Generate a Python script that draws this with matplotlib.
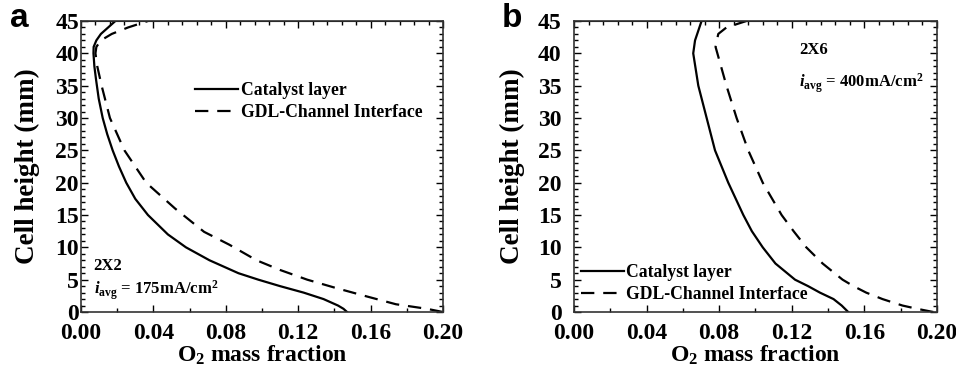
import matplotlib
matplotlib.use('Agg')
import matplotlib.pyplot as plt
from matplotlib.ticker import MultipleLocator, FormatStrFormatter
from matplotlib.lines import Line2D

plt.rcParams['font.family'] = 'Liberation Serif'
plt.rcParams['font.weight'] = 'bold'
plt.rcParams['mathtext.fontset'] = 'custom'
plt.rcParams['mathtext.rm'] = 'Liberation Serif:bold'
plt.rcParams['mathtext.it'] = 'Liberation Serif:italic:bold'
plt.rcParams['mathtext.bf'] = 'Liberation Serif:bold'

# panel a (2X2, 175 mA/cm2)
h_cl_a = [0, 0.5, 1, 1.5, 2, 3, 4, 5, 6, 8, 10, 12, 15, 17.5, 20, 22.5, 25, 27.5, 30, 33, 36, 38, 40, 41, 42, 43, 44, 45]
o2_cl_a = [0.147, 0.145, 0.142, 0.138, 0.134, 0.123, 0.110, 0.098, 0.087, 0.071, 0.058, 0.048, 0.037, 0.030,
           0.025, 0.021, 0.0175, 0.0145, 0.012, 0.0098, 0.0083, 0.0074, 0.0069, 0.0070, 0.0085, 0.011, 0.015, 0.019]
h_gdl_a = [0, 0.5, 1.2, 2.4, 3.7, 5, 6.5, 8, 10.4, 12.4, 16, 20, 25, 30, 35, 38, 40, 41, 42, 43, 44, 45]
o2_gdl_a = [0.200, 0.191, 0.174, 0.158, 0.141, 0.125, 0.110, 0.097, 0.082, 0.068, 0.052, 0.036, 0.024, 0.016,
            0.0114, 0.009, 0.0080, 0.0085, 0.011, 0.017, 0.026, 0.037]

# panel b (2X6, 400 mA/cm2)
h_cl_b = [0, 1, 2, 3, 4, 5, 7.5, 10, 12.5, 15, 20, 25, 30, 35, 40, 42, 45]
o2_cl_b = [0.1511, 0.1475, 0.143, 0.1355, 0.129, 0.1218, 0.111, 0.104, 0.098, 0.0933, 0.085, 0.0777, 0.0731,
           0.0685, 0.0657, 0.0667, 0.0703]
h_gdl_b = [0, 0.5, 1, 2, 3, 4, 5, 7.5, 10, 12.5, 15, 20, 25, 30, 35, 40, 41, 43, 44, 45]
o2_gdl_b = [0.198, 0.189, 0.181, 0.170, 0.161, 0.154, 0.148, 0.137, 0.128, 0.121, 0.1144, 0.104, 0.096, 0.0896,
            0.084, 0.079, 0.078, 0.0795, 0.084, 0.095]

labels = ['Catalyst layer', 'GDL-Channel Interface']
dash = (0, (6, 4))

fig = plt.figure(figsize=(9.56, 3.73), dpi=100)
ax_a = fig.add_axes([0.0847, 0.1635, 0.3787, 0.7802])
ax_b = fig.add_axes([0.6004, 0.1635, 0.3797, 0.7802])


def style(ax, ypad, ylab_x):
    ax.set_xlim(0, 0.2)
    ax.set_ylim(0, 45)
    ax.xaxis.set_major_locator(MultipleLocator(0.04))
    ax.xaxis.set_minor_locator(MultipleLocator(0.02))
    ax.yaxis.set_major_locator(MultipleLocator(5))
    ax.yaxis.set_minor_locator(MultipleLocator(1))
    ax.xaxis.set_major_formatter(FormatStrFormatter('%.2f'))
    ax.tick_params(which='major', direction='in', length=5, width=1, labelsize=17)
    ax.tick_params(which='minor', direction='in', length=3, width=1)
    ax.tick_params(axis='x', which='major', pad=8)
    ax.tick_params(axis='y', which='major', pad=ypad)
    ax.tick_params(axis='y', which='both', right=True)
    for s in ax.spines.values():
        s.set_linewidth(1.2)
        s.set_color('#333333')
    top = ax.secondary_xaxis('top')
    top.xaxis.set_major_locator(MultipleLocator(0.04))
    top.xaxis.set_minor_locator(MultipleLocator(0.008))
    top.tick_params(which='major', direction='in', length=5, width=1, labeltop=False)
    top.tick_params(which='minor', direction='in', length=3, width=1)
    ax.set_xlabel('O$_2$ mass fraction', fontsize=17, fontweight='bold')
    ax.set_ylabel('Cell height (mm)', fontsize=19.5, fontweight='bold')
    ax.xaxis.set_label_coords(0.5, -0.108)
    ax.yaxis.set_label_coords(ylab_x, 0.5)


style(ax_a, 1.5, -0.113)
style(ax_b, 9, -0.135)

ax_a.plot(o2_cl_a, h_cl_a, color='black', lw=1.6)
ax_a.plot(o2_gdl_a, h_gdl_a, color='black', lw=1.6, linestyle=dash)
ax_b.plot(o2_cl_b, h_cl_b, color='black', lw=1.6)
ax_b.plot(o2_gdl_b, h_gdl_b, color='black', lw=1.6, linestyle=dash)

handles = [Line2D([], [], color='black', lw=1.6),
           Line2D([], [], color='black', lw=1.6, linestyle=dash)]
leg_kw = dict(frameon=False, fontsize=12.7, handlelength=2.45, handletextpad=0.15,
              labelspacing=0.3, borderaxespad=0, borderpad=0)
ax_a.legend(handles, labels, loc='upper left', bbox_to_anchor=(0.315, 0.79), **leg_kw)
ax_b.legend(handles, labels, loc='lower left', bbox_to_anchor=(0.018, 0.03), **leg_kw)

ax_a.text(0.035, 0.143, '2X2', transform=ax_a.transAxes, fontsize=12, fontweight='bold')
ax_a.text(0.035, 0.06, r'$i_{\mathrm{avg}}$ = 175mA/cm$^{2}$', transform=ax_a.transAxes,
          fontsize=12, fontweight='bold')
ax_b.text(0.62, 0.888, '2X6', transform=ax_b.transAxes, fontsize=12, fontweight='bold')
ax_b.text(0.62, 0.772, r'$i_{\mathrm{avg}}$ = 400mA/cm$^{2}$', transform=ax_b.transAxes,
          fontsize=12, fontweight='bold')

fig.text(0.010, 0.928, 'a', fontsize=24, fontweight='bold', family='Liberation Sans')
fig.text(0.525, 0.928, 'b', fontsize=24, fontweight='bold', family='Liberation Sans')

fig.savefig('out.png', dpi=100)
